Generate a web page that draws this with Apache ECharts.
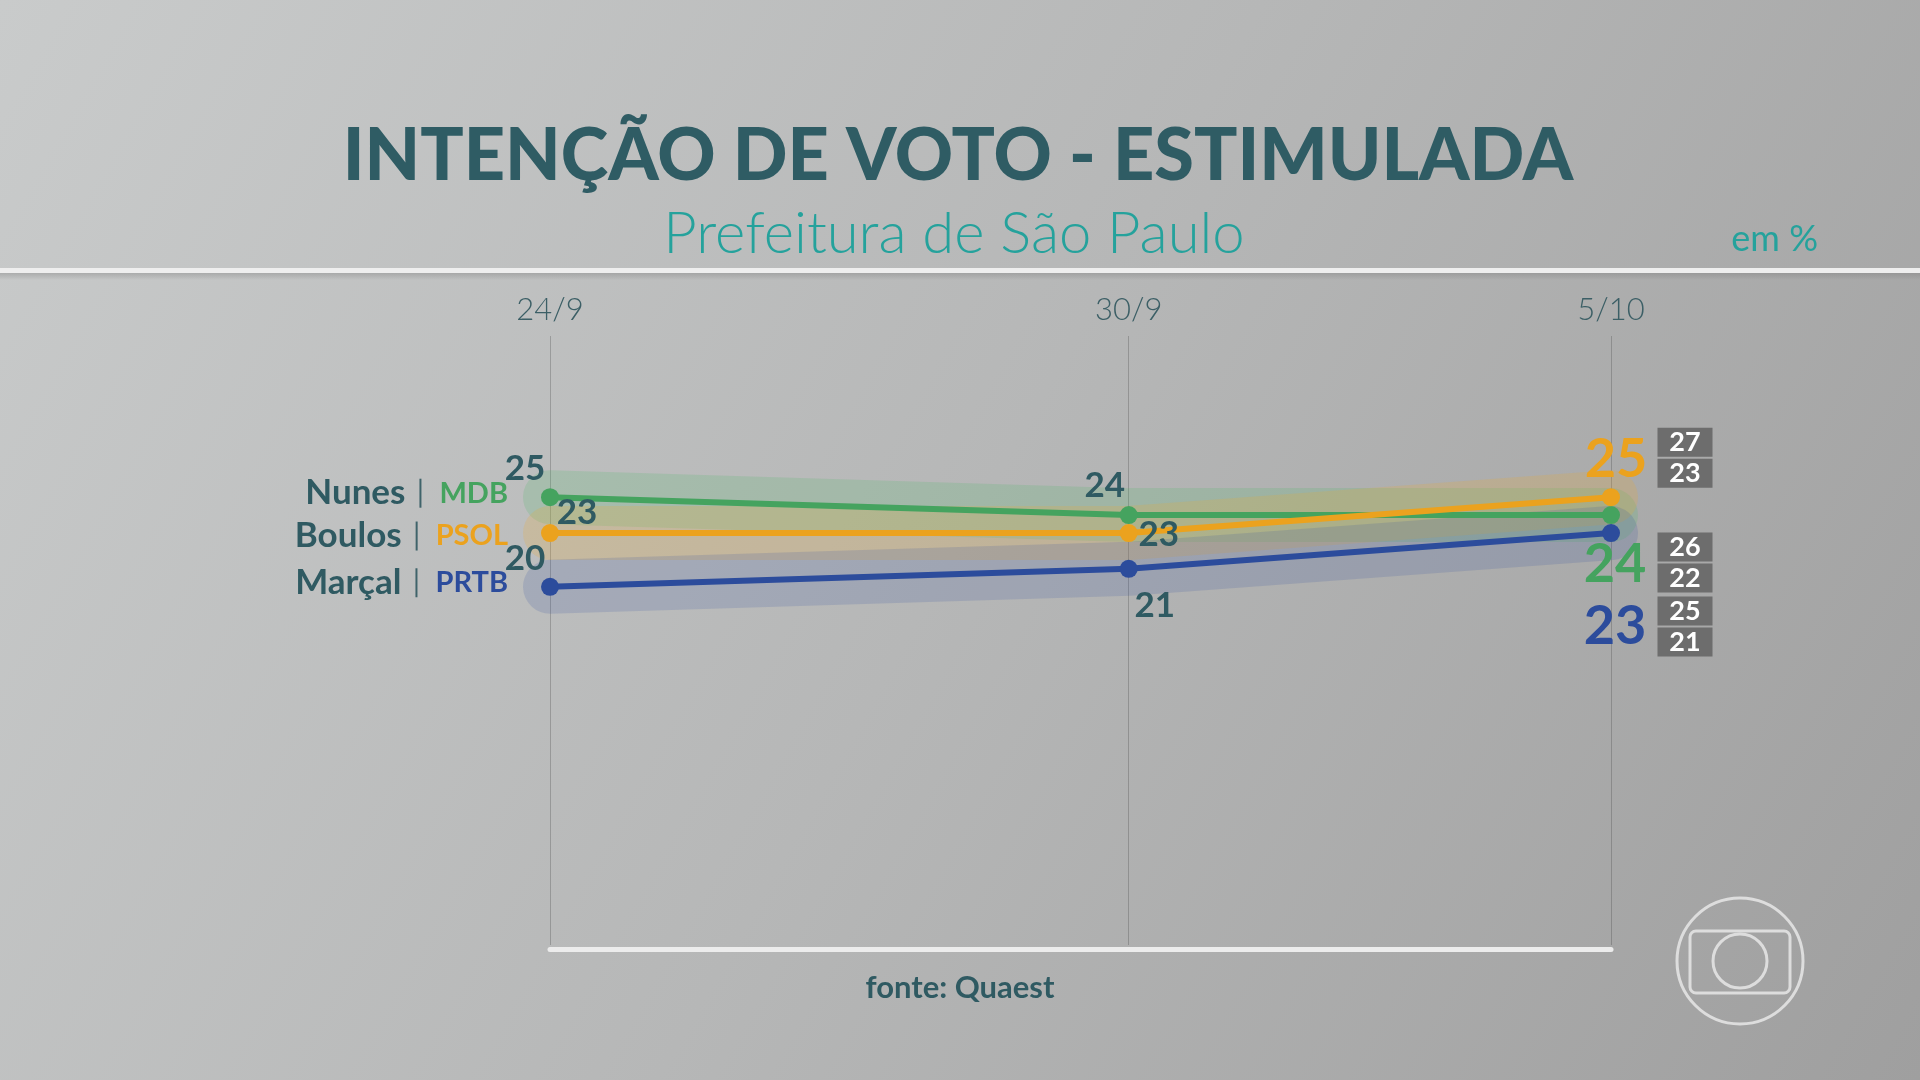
<!DOCTYPE html>
<html>
<head>
<meta charset="utf-8">
<title>Intenção de voto - estimulada</title>
<script src="https://cdn.jsdelivr.net/npm/echarts@6/dist/echarts.min.js"></script>
<style>
  html, body { margin: 0; padding: 0; }
  #chart { width: 1920px; height: 1080px; }
</style>
</head>
<body>
<div id="chart"></div>
<script>
// dados da pesquisa (Quaest)
const dates = ['2024-09-24', '2024-09-30', '2024-10-05']
const dateLabels = ['24/9', '30/9', '5/10']
const candidates = ['Nunes', 'Boulos', 'Marçal']
const parties = ['MDB', 'PSOL', 'PRTB']
const nunes = [25, 24, 24]
const boulos = [23, 23, 25]
const marcal = [20, 21, 23]
// margem de erro da última rodada (máx, mín)
const nunesRange = [26, 22]
const boulosRange = [27, 23]
const marcalRange = [25, 21]

const values = [nunes, boulos, marcal]
const ranges = [nunesRange, boulosRange, marcalRange]

// estilos
const colors = ['#45a35f', '#eba21e', '#2c4c9c']
const bandColors = ['rgba(80,185,105,0.2)', 'rgba(240,170,40,0.2)', 'rgba(45,75,160,0.16)']
const darkText = '#2f5a62'
const labelOffsets = [
  [[-25, -28], [-24, -29], [4, 49]],
  [[27, -20], [30, 2], [5, -38]],
  [[-25, -28], [26, 37], [4, 94]]
]
const rangeOffsets = [[74, 47.5], [74, -39.5], [74, 93.5]]
const legendOffsets = [[0, -4], [0, 3], [0, -4]]

// dias corridos desde a primeira rodada (eixo x proporcional ao tempo)
const DAY = 86400000
const t0 = Date.parse(dates[0])
const days = dates.map(d => Math.round((Date.parse(d) - t0) / DAY))
const lastDay = days[days.length - 1]

const chart = echarts.init(document.getElementById('chart'))

let series = []
// faixas (margem) por baixo
values.forEach((vals, k) => {
  series.push({
    type: 'line',
    silent: true,
    z: 1,
    symbol: 'circle',
    symbolSize: 0,
    showSymbol: true,
    lineStyle: { width: 54, color: bandColors[k], cap: 'round', join: 'round' },
    itemStyle: { color: 'transparent' },
    emphasis: { disabled: true },
    data: vals.map((v, i) => {
      const item = { value: [days[i], v] }
      if (i === 0) {
        item.label = {
          show: true,
          position: 'left',
          distance: 42,
          offset: legendOffsets[k],
          formatter: '{nm|' + candidates[k] + '}{gap|}{sep|}{gap2|}{pt|' + parties[k] + '}',
          rich: {
            nm: { fontFamily: 'Lato', fontWeight: 'bold', fontSize: 35, color: darkText },
            gap: { width: 14 },
            gap2: { width: 18 },
            sep: { width: 2, height: 29, backgroundColor: '#3f636a' },
            pt: { fontFamily: 'Lato', fontWeight: 'bold', fontSize: 29, color: colors[k] }
          }
        }
      }
      return item
    })
  })
})
// linhas principais
values.forEach((vals, k) => {
  series.push({
    type: 'line',
    z: 3,
    symbol: 'circle',
    symbolSize: 18,
    lineStyle: { width: 6, color: colors[k] },
    itemStyle: { color: colors[k] },
    emphasis: { disabled: true },
    label: {
      show: true,
      position: 'inside',
      fontFamily: 'Lato',
      fontWeight: 'bold',
      fontSize: 35,
      color: darkText
    },
    data: vals.map((v, i) => {
      const last = i === vals.length - 1
      return {
        value: [days[i], v],
        label: last
          ? { offset: labelOffsets[k][i], fontSize: 54, color: colors[k], fontWeight: 'bold' }
          : { offset: labelOffsets[k][i] }
      }
    }),
    markPoint: {
      symbol: 'rect',
      symbolSize: 0,
      silent: true,
      data: [{ coord: [lastDay, vals[vals.length - 1]] }],
      label: {
        show: true,
        position: 'inside',
        offset: rangeOffsets[k],
        formatter: '{b|' + ranges[k][0] + '}\n{b|' + ranges[k][1] + '}',
        rich: {
          b: {
            width: 55,
            height: 29,
            lineHeight: 31,
            align: 'center',
            backgroundColor: '#6d6d6d',
            color: '#ffffff',
            fontFamily: 'Lato',
            fontWeight: 'bold',
            fontSize: 27
          }
        }
      }
    }
  })
})

const option = {
  animation: false,
  backgroundColor: {
    type: 'linear', x: 0, y: 0, x2: 1, y2: 1,
    colorStops: [
      { offset: 0, color: '#c9cbcb' },
      { offset: 0.5, color: '#b6b7b7' },
      { offset: 1, color: '#9f9f9f' }
    ]
  },
  grid: { left: 550, right: 309, top: 336, bottom: 135 },
  xAxis: [
    {
      type: 'value',
      position: 'top',
      min: 0,
      max: lastDay,
      axisLine: { show: false },
      axisTick: { show: false, customValues: days },
      axisLabel: {
        customValues: days,
        margin: 11,
        fontFamily: 'Lato',
        fontWeight: 300,
        fontSize: 31,
        color: '#3c5f66',
        formatter: v => dateLabels[days.indexOf(v)]
      },
      splitLine: { show: true, lineStyle: { color: 'rgba(60,60,60,0.28)', width: 1 } }
    },
    {
      type: 'value',
      position: 'bottom',
      offset: 4,
      min: 0,
      max: lastDay,
      axisLine: { show: true, lineStyle: { color: '#ececec', width: 5, cap: 'round' } },
      axisTick: { show: false },
      axisLabel: { show: false },
      splitLine: { show: false }
    }
  ],
  yAxis: {
    type: 'value',
    min: 0,
    max: 34,
    show: false
  },
  series: series,
  graphic: [
    // faixa branca do cabeçalho
    { type: 'rect', shape: { x: 0, y: 268, width: 1920, height: 5 }, style: { fill: '#eeeeee' }, silent: true },
    {
      type: 'rect', shape: { x: 0, y: 273, width: 1920, height: 7 }, silent: true,
      style: {
        fill: {
          type: 'linear', x: 0, y: 0, x2: 0, y2: 1,
          colorStops: [{ offset: 0, color: 'rgba(120,120,120,0.35)' }, { offset: 1, color: 'rgba(120,120,120,0)' }]
        }
      }
    },
    {
      type: 'text', x: 958, y: 157, silent: true,
      style: { text: 'INTENÇÃO DE VOTO - ESTIMULADA', fill: '#2f5c64', font: '900 72px Lato', align: 'center', verticalAlign: 'middle' }
    },
    {
      type: 'text', x: 954, y: 234, silent: true,
      style: { text: 'Prefeitura de São Paulo', fill: '#25a29c', font: '300 58px Lato', align: 'center', verticalAlign: 'middle' }
    },
    {
      type: 'text', x: 1818, y: 239, silent: true,
      style: { text: 'em %', fill: '#25a29c', font: '400 36px Lato', align: 'right', verticalAlign: 'middle' }
    },
    {
      type: 'text', x: 960, y: 988, silent: true,
      style: { text: 'fonte: Quaest', fill: '#2f5a62', font: 'bold 31px Lato', align: 'center', verticalAlign: 'middle' }
    },
    // logo
    {
      type: 'group', x: 1740, y: 961, silent: true,
      children: [
        { type: 'circle', shape: { cx: 0, cy: 0, r: 63 }, style: { fill: 'none', stroke: 'rgba(240,240,240,0.75)', lineWidth: 3 } },
        { type: 'rect', shape: { x: -50, y: -30, width: 100, height: 62, r: 6 }, style: { fill: 'none', stroke: 'rgba(240,240,240,0.75)', lineWidth: 3 } },
        { type: 'circle', shape: { cx: 0, cy: 0, r: 27 }, style: { fill: 'none', stroke: 'rgba(240,240,240,0.75)', lineWidth: 3 } }
      ]
    }
  ]
}

chart.setOption(option)
</script>
</body>
</html>
